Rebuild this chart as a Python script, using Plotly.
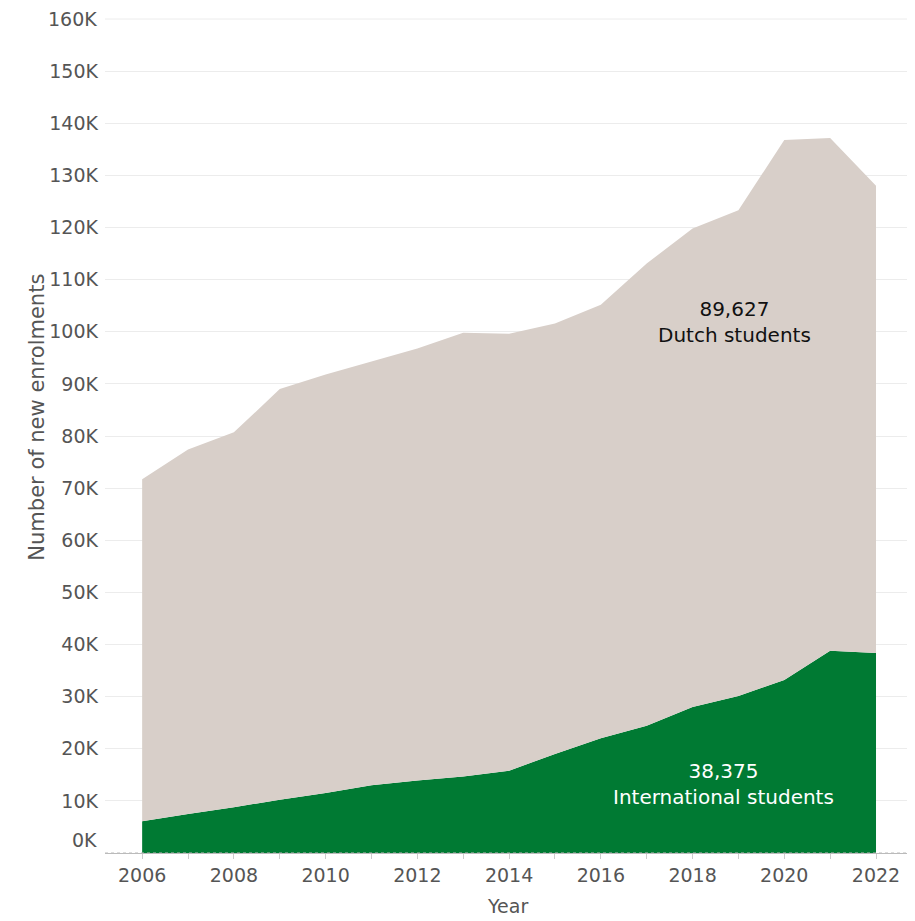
import plotly.graph_objects as go

years = list(range(2006, 2023))
international = [6100, 7500, 8800, 10200, 11500, 13000, 13900, 14700, 15800, 19000,
                 22000, 24400, 28000, 30100, 33200, 38800, 38375]
total = [71700, 77400, 80700, 89000, 91800, 94300, 96800, 99800, 99600, 101600,
         105200, 113100, 119800, 123300, 136800, 137200, 128002]
dutch = [t - i for t, i in zip(total, international)]
dutch[-1] = 89627

y_ticks = list(range(10000, 160001, 10000))
y_labels = [f"{v // 1000}K" for v in y_ticks]
x_labels = [str(y) if y % 2 == 0 else "" for y in years]

FONT = "DejaVu Sans"
GREEN = "#007A33"
BEIGE = "#D8CFC9"
TICK_FONT = dict(family=FONT, size=19, color="#555555")

fig = go.Figure()
fig.add_trace(go.Scatter(x=years, y=international, stackgroup="one", mode="none",
                         fillcolor=GREEN, name="International students"))
fig.add_trace(go.Scatter(x=years, y=dutch, stackgroup="one", mode="none",
                         fillcolor=BEIGE, name="Dutch students"))

fig.update_layout(
    width=907, height=913,
    margin=dict(l=97, r=0, t=10, b=68),
    paper_bgcolor="white", plot_bgcolor="white",
    showlegend=False,
    font=TICK_FONT,
)
fig.update_xaxes(
    range=[2005.19, 2022.85],
    tickvals=years, ticktext=x_labels,
    ticks="outside", ticklen=5, tickcolor="#cccccc",
    showgrid=False, zeroline=False,
    showline=True, linecolor="#bbbbbb", linewidth=1,
    tickfont=TICK_FONT,
    automargin=False,
)
fig.update_yaxes(
    range=[0, 160200],
    tickvals=y_ticks[:-1], ticktext=y_labels[:-1],
    showgrid=True, gridcolor="#ececec", gridwidth=1,
    zeroline=False, showline=False, ticks="",
    ticklabelstandoff=6,
    tickfont=TICK_FONT,
    automargin=False,
)
# top gridline and dotted baseline
fig.add_shape(type="line", xref="paper", yref="y", x0=0, x1=1, y0=y_ticks[-1], y1=y_ticks[-1],
              line=dict(color="#ececec", width=1), layer="below")
fig.add_shape(type="line", xref="paper", yref="y", x0=0, x1=1, y0=0, y1=0,
              line=dict(color="#bbbbbb", width=1, dash="dot"))

fig.add_annotation(x=0, xref="paper", y=y_ticks[-1], yref="y", text=y_labels[-1],
                   showarrow=False, xanchor="right", yanchor="middle", xshift=-6,
                   font=TICK_FONT)
fig.add_annotation(x=0, xref="paper", y=0, yref="y", text="0K", showarrow=False,
                   xanchor="right", xshift=-6, yshift=13, font=TICK_FONT)
fig.add_annotation(x=-0.085, xref="paper", y=0.5, yref="paper",
                   text="Number of new enrolments", textangle=-90, showarrow=False,
                   xanchor="center", yanchor="middle", yshift=18,
                   font=dict(family=FONT, size=21, color="#555555"))
fig.add_annotation(x=0.5, xref="paper", y=0, yref="paper", yshift=-53,
                   text="Year", showarrow=False, yanchor="middle", xshift=-3,
                   font=TICK_FONT)

fig.add_annotation(x=2018.92, y=101800, text="89,627<br>Dutch students",
                   showarrow=False, font=dict(family=FONT, size=20, color="#111111"))
fig.add_annotation(x=2018.68, y=13300, text="38,375<br>International students",
                   showarrow=False, font=dict(family=FONT, size=20, color="#ffffff"))

fig.write_html("out.html")
